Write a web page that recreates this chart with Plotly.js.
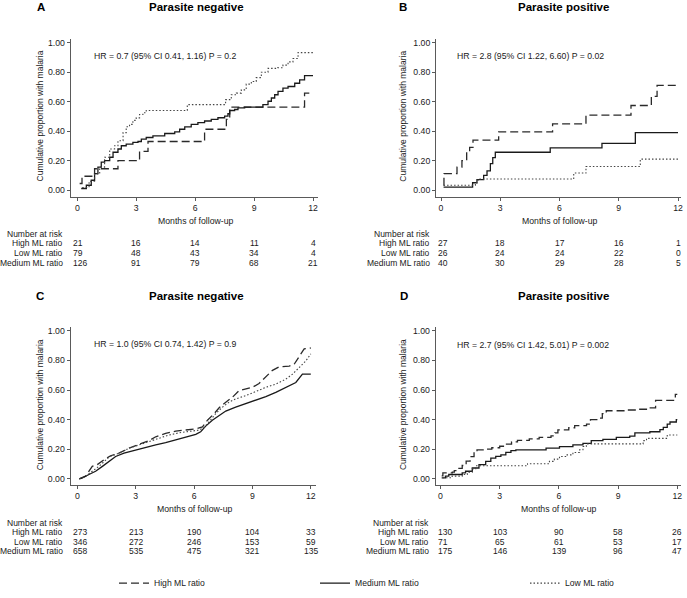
<!DOCTYPE html>
<html>
<head>
<meta charset="utf-8">
<script src="https://cdn.plot.ly/plotly-3.0.1.min.js"></script>
<style>html,body{margin:0;padding:0;background:#fff}#chart{width:687px;height:598px}</style>
</head>
<body>
<div id="chart"></div>
<script>
// ---------------- DATA ----------------
const monthTicks = [0, 3, 6, 9, 12];
const propTicks = [0, 0.2, 0.4, 0.6, 0.8, 1.0];
const seriesNames = ["High ML ratio", "Medium ML ratio", "Low ML ratio"];
const riskRowNames = ["High ML ratio", "Low ML ratio", "Medium ML ratio"];

const panelLetters = ["A", "B", "C", "D"];
const panelTitles = ["Parasite negative", "Parasite positive", "Parasite negative", "Parasite positive"];
const hrTexts = [
  "HR = 0.7 (95% CI 0.41, 1.16) P = 0.2",
  "HR = 2.8 (95% CI 1.22, 6.60) P = 0.02",
  "HR = 1.0 (95% CI 0.74, 1.42) P = 0.9",
  "HR = 2.7 (95% CI 1.42, 5.01) P = 0.002"
];

// Panel A
const aHighX = [0.12, 0.24, 0.88, 2.07, 3.17, 3.6, 6.48, 7.59, 7.76, 11.57, 12.0];
const aHighY = [0.045, 0.094, 0.145, 0.20, 0.263, 0.33, 0.413, 0.48, 0.5625, 0.658, 0.658];
const aMedX = [0.2, 0.46, 0.71, 0.88, 1.05, 1.22, 1.39, 1.65, 1.82, 2.07, 2.24, 2.49, 2.83, 3.09, 3.26, 3.51, 3.85, 4.45, 4.96, 5.21, 5.47, 5.8, 6.14, 6.48, 6.82, 7.16, 7.5, 7.67, 7.76, 8.01, 8.18, 8.52, 9.45, 9.71, 9.88, 10.05, 10.22, 10.47, 10.73, 11.07, 11.32, 11.57, 12.0];
const aMedY = [0.011, 0.033, 0.067, 0.112, 0.156, 0.19, 0.20, 0.223, 0.257, 0.279, 0.301, 0.3125, 0.324, 0.33, 0.346, 0.357, 0.368, 0.384, 0.395, 0.413, 0.429, 0.446, 0.458, 0.469, 0.48, 0.491, 0.502, 0.518, 0.54, 0.547, 0.558, 0.5625, 0.58, 0.603, 0.625, 0.647, 0.67, 0.692, 0.703, 0.725, 0.748, 0.777, 0.777];
const aLowX = [0.25, 0.6, 0.88, 1.14, 1.39, 1.65, 1.90, 2.07, 2.33, 2.49, 2.66, 2.83, 3.0, 3.17, 3.34, 3.51, 5.6, 7.55, 7.84, 8.1, 8.35, 8.6, 8.86, 9.11, 9.37, 9.71, 10.2, 10.47, 10.73, 10.98, 11.24, 12.0];
const aLowY = [0.018, 0.06, 0.11, 0.156, 0.223, 0.279, 0.301, 0.335, 0.39, 0.43, 0.446, 0.473, 0.49, 0.513, 0.525, 0.54, 0.58, 0.614, 0.647, 0.658, 0.68, 0.719, 0.737, 0.763, 0.80, 0.826, 0.83, 0.848, 0.87, 0.893, 0.933, 0.933];

// Panel B
const bHighX = [0.13, 0.15, 0.81, 1.06, 1.3, 1.45, 1.62, 2.92, 5.65, 7.34, 9.62, 10.65, 10.94, 12.0];
const bHighY = [0.033, 0.112, 0.156, 0.20, 0.257, 0.29, 0.339, 0.395, 0.45, 0.509, 0.574, 0.636, 0.71, 0.71];
const bMedX = [0.13, 1.6, 1.82, 2.16, 2.33, 2.5, 2.62, 2.75, 5.53, 8.15, 9.84, 12.0];
const bMedY = [0.02, 0.05, 0.071, 0.10, 0.13, 0.18, 0.22, 0.257, 0.286, 0.317, 0.39, 0.39];
const bLowX = [0.13, 1.74, 1.87, 6.72, 7.34, 10.09, 12.0];
const bLowY = [0.033, 0.05, 0.075, 0.116, 0.16, 0.21, 0.21];

// Panel C
const cHighX = [0.1, 0.43, 0.77, 1.03, 1.37, 1.71, 2.14, 2.66, 3.17, 3.69, 4.03, 4.54, 5.06, 5.57, 6.09, 6.43, 6.69, 7.03, 7.29, 7.63, 7.97, 8.31, 8.74, 9.0, 9.34, 9.69, 10.03, 10.37, 10.89, 11.14, 11.4, 11.66, 12.0];
const cHighY = [0.0, 0.018, 0.084, 0.096, 0.129, 0.156, 0.173, 0.207, 0.233, 0.258, 0.284, 0.307, 0.322, 0.329, 0.338, 0.351, 0.396, 0.44, 0.48, 0.518, 0.551, 0.596, 0.607, 0.618, 0.644, 0.689, 0.733, 0.756, 0.762, 0.773, 0.822, 0.878, 0.884];
const cMedX = [0.1, 0.26, 0.6, 0.94, 1.29, 1.63, 1.97, 2.4, 2.83, 3.09, 3.51, 4.03, 4.54, 5.06, 5.57, 6.09, 6.34, 6.6, 6.94, 7.29, 7.63, 8.14, 8.66, 9.17, 9.69, 10.2, 10.71, 11.23, 11.57, 12.0];
const cMedY = [0.0, 0.007, 0.029, 0.051, 0.084, 0.118, 0.151, 0.173, 0.189, 0.196, 0.211, 0.229, 0.244, 0.262, 0.28, 0.30, 0.318, 0.356, 0.396, 0.429, 0.458, 0.484, 0.507, 0.529, 0.556, 0.584, 0.618, 0.651, 0.707, 0.707];
const cLowX = [0.1, 0.43, 0.77, 1.11, 1.63, 2.14, 2.66, 3.17, 3.69, 4.2, 4.71, 5.23, 5.74, 6.26, 6.51, 6.77, 7.11, 7.46, 7.8, 8.14, 8.66, 9.17, 9.69, 10.2, 10.71, 11.06, 11.4, 11.74, 12.0];
const cLowY = [0.0, 0.018, 0.051, 0.084, 0.147, 0.173, 0.207, 0.229, 0.251, 0.273, 0.296, 0.311, 0.318, 0.329, 0.347, 0.384, 0.44, 0.484, 0.518, 0.54, 0.562, 0.591, 0.618, 0.64, 0.673, 0.707, 0.751, 0.796, 0.844];

// Panel D
const dHighX = [0.06, 0.12, 0.6, 0.7, 0.9, 1.1, 1.3, 1.5, 1.7, 1.85, 2.3, 2.6, 3.0, 3.3, 3.6, 3.9, 4.5, 5.0, 5.6, 5.8, 5.95, 6.5, 6.8, 7.4, 7.6, 8.0, 8.2, 8.4, 9.4, 10.1, 10.5, 10.9, 11.9, 12.0];
const dHighY = [0.02, 0.04, 0.045, 0.055, 0.07, 0.09, 0.12, 0.15, 0.18, 0.195, 0.20, 0.21, 0.22, 0.235, 0.25, 0.26, 0.27, 0.28, 0.29, 0.31, 0.33, 0.345, 0.36, 0.37, 0.40, 0.41, 0.44, 0.46, 0.465, 0.47, 0.48, 0.53, 0.57, 0.57];
const dMedX = [0.06, 0.25, 0.42, 1.1, 1.27, 1.61, 1.95, 2.29, 2.55, 2.8, 3.06, 3.31, 3.57, 3.82, 5.35, 6.03, 6.71, 7.22, 7.64, 8.23, 8.91, 9.59, 9.85, 10.61, 11.12, 11.29, 11.49, 11.63, 11.95, 12.0];
const dMedY = [0.007, 0.018, 0.029, 0.04, 0.051, 0.073, 0.096, 0.118, 0.14, 0.151, 0.162, 0.178, 0.191, 0.196, 0.207, 0.218, 0.229, 0.24, 0.258, 0.267, 0.28, 0.289, 0.311, 0.318, 0.333, 0.347, 0.369, 0.384, 0.40, 0.40];
const dLowX = [0.1, 0.59, 1.1, 1.36, 1.61, 1.78, 4.41, 5.52, 5.77, 6.03, 6.37, 6.71, 7.05, 7.22, 7.39, 10.27, 10.44, 11.49, 12.0];
const dLowY = [0.007, 0.018, 0.029, 0.044, 0.067, 0.088, 0.102, 0.118, 0.133, 0.151, 0.162, 0.178, 0.196, 0.218, 0.236, 0.258, 0.273, 0.296, 0.296];

// Numbers at risk (rows: High, Low, Medium; columns at monthTicks)
const riskAHigh = [21, 16, 14, 11, 4];
const riskALow = [79, 48, 43, 34, 4];
const riskAMed = [126, 91, 79, 68, 21];
const riskBHigh = [27, 18, 17, 16, 1];
const riskBLow = [26, 24, 24, 22, 0];
const riskBMed = [40, 30, 29, 28, 5];
const riskCHigh = [273, 213, 190, 104, 33];
const riskCLow = [346, 272, 246, 153, 59];
const riskCMed = [658, 535, 475, 321, 135];
const riskDHigh = [130, 103, 90, 58, 26];
const riskDLow = [71, 65, 61, 53, 17];
const riskDMed = [175, 146, 139, 96, 47];

// ---------------- LAYOUT / STYLE ----------------
const W = 687, H = 598;
const FONT = "Liberation Sans, Arial, Helvetica, sans-serif";
const TXT = "#1a1a1a";
const px2x = p => p / W;
const px2y = p => 1 - p / H;

const panels = [
  {ax: "", left: 70.7, right: 318, x0: 77.3, x12: 313, bottom: 199.5, top: 39.3, y0: 192.7, y1: 43.3,
   letter: [41.3, 7.5], title: [196, 7.5], hr: [92, 56.7], ytitle: 40, xtitle: 224, header: 237, rows: [246.7, 256.7, 266.3], labelRight: 64.5,
   series: [[aHighX, aHighY], [aMedX, aMedY], [aLowX, aLowY]], risk: [riskAHigh, riskALow, riskAMed], shape: "hv"},
  {ax: "2", left: 436, right: 681, x0: 441, x12: 678, bottom: 199.5, top: 39.3, y0: 192.7, y1: 43.3,
   letter: [403, 7.5], title: [563, 7.5], hr: [455, 56.7], ytitle: 403.3, xtitle: 224, header: 237, rows: [246.7, 256.7, 266.3], labelRight: 431.7,
   series: [[bHighX, bHighY], [bMedX, bMedY], [bLowX, bLowY]], risk: [riskBHigh, riskBLow, riskBMed], shape: "hv"},
  {ax: "3", left: 70.5, right: 316, x0: 77.3, x12: 310.8, bottom: 491.5, top: 331.5, y0: 485.3, y1: 335.3,
   letter: [39.7, 300], title: [196.5, 300], hr: [92, 348.3], ytitle: 39.5, xtitle: 516, header: 529.6, rows: [539.3, 549.3, 558.9], labelRight: 64.5,
   series: [[cHighX, cHighY], [cMedX, cMedY], [cLowX, cLowY]], risk: [riskCHigh, riskCLow, riskCMed], shape: "linear"},
  {ax: "4", left: 435.7, right: 681, x0: 440.5, x12: 677.3, bottom: 491.5, top: 331.5, y0: 485.3, y1: 335.3,
   letter: [403.8, 300], title: [563, 300], hr: [455, 349.3], ytitle: 403.3, xtitle: 516, header: 529.6, rows: [539.3, 549.3, 558.9], labelRight: 431,
   series: [[dHighX, dHighY], [dMedX, dMedY], [dLowX, dLowY]], risk: [riskDHigh, riskDLow, riskDMed], shape: "hv"}
];

const lineStyles = [
  {color: "#2a2a2a", width: 1.3, dash: "8px,4px"},
  {color: "#1a1a1a", width: 1.3, dash: "solid"},
  {color: "#444", width: 1.1, dash: "1.5px,2px"}
];
const legendIds = ["legend", "legend2", "legend3"];
const legendLeftPx = [114, 315, 525];

const traces = [];
const annotations = [];
const layout = {
  width: W, height: H,
  margin: {l: 0, r: 0, t: 0, b: 0},
  paper_bgcolor: "#fff", plot_bgcolor: "#fff",
  font: {family: FONT, size: 8.7, color: TXT},
  showlegend: true
};
legendIds.forEach((id, k) => {
  layout[id] = {
    orientation: "h", x: px2x(legendLeftPx[k]), xanchor: "left", y: px2y(591), yanchor: "middle",
    font: {family: FONT, size: 8.6, color: TXT}, bgcolor: "rgba(0,0,0,0)", borderwidth: 0,
    itemwidth: 30
  };
});

panels.forEach((p, i) => {
  const ppm = (p.x12 - p.x0) / 12;
  const ppu = p.y0 - p.y1;
  const xr = [(p.left - p.x0) / ppm, (p.right - p.x0) / ppm];
  const yr = [(p.y0 - p.bottom) / ppu, (p.y0 - p.top) / ppu];
  const axCommon = {
    showline: true, linecolor: "#5a5a5a", linewidth: 1, ticks: "outside", ticklen: 3, tickwidth: 1,
    tickcolor: "#5a5a5a", showgrid: false, zeroline: false, fixedrange: true,
    tickfont: {family: FONT, size: 8.7, color: TXT}
  };
  layout["xaxis" + p.ax] = Object.assign({}, axCommon, {
    domain: [px2x(p.left), px2x(p.right)], range: xr, tickvals: monthTicks,
    anchor: "y" + p.ax
  });
  layout["yaxis" + p.ax] = Object.assign({}, axCommon, {
    domain: [px2y(p.bottom), px2y(p.top)], range: yr, tickvals: propTicks, tickformat: ".2f",
    anchor: "x" + p.ax
  });

  p.series.forEach((s, k) => {
    traces.push({
      type: "scatter", mode: "lines", x: s[0], y: s[1],
      xaxis: "x" + p.ax, yaxis: "y" + p.ax,
      name: seriesNames[k], legend: legendIds[k], showlegend: i === 0,
      line: Object.assign({shape: p.shape}, lineStyles[k]), hoverinfo: "skip"
    });
  });

  annotations.push({xref: "paper", yref: "paper", x: px2x(p.letter[0]), y: px2y(p.letter[1]), xanchor: "center", yanchor: "middle",
    text: "<b>" + panelLetters[i] + "</b>", showarrow: false, font: {family: FONT, size: 11.5, color: "#000"}});
  annotations.push({xref: "paper", yref: "paper", x: px2x(p.title[0]), y: px2y(p.title[1]), xanchor: "center", yanchor: "middle",
    text: "<b>" + panelTitles[i] + "</b>", showarrow: false, font: {family: FONT, size: 11.5, color: "#000"}});
  annotations.push({xref: "paper", yref: "paper", x: px2x(p.hr[0]), y: px2y(p.hr[1]), xanchor: "left", yanchor: "middle",
    text: hrTexts[i], showarrow: false, font: {family: FONT, size: 8.7, color: TXT}});
  annotations.push({xref: "paper", yref: "paper", x: px2x(p.ytitle), y: px2y((p.y0 + p.y1) / 2), xanchor: "center", yanchor: "middle",
    text: "Cumulative proportion with malaria", textangle: -90, showarrow: false, font: {family: FONT, size: 8.5, color: TXT}});
  annotations.push({xref: "x" + p.ax, yref: "paper", x: 6, y: px2y(p.xtitle), xanchor: "center", yanchor: "middle",
    text: "Months of follow-up", showarrow: false, font: {family: FONT, size: 8.7, color: TXT}});
  annotations.push({xref: "paper", yref: "paper", x: px2x(p.labelRight), y: px2y(p.header), xanchor: "right", yanchor: "middle",
    text: "Number at risk", showarrow: false, font: {family: FONT, size: 8.5, color: TXT}});
  p.risk.forEach((row, r) => {
    annotations.push({xref: "paper", yref: "paper", x: px2x(p.labelRight), y: px2y(p.rows[r]), xanchor: "right", yanchor: "middle",
      text: riskRowNames[r], showarrow: false, font: {family: FONT, size: 8.5, color: TXT}});
    row.forEach((v, c) => {
      const first = c === 0;
      annotations.push({xref: "x" + p.ax, yref: "paper", x: first ? xr[0] : monthTicks[c], y: px2y(p.rows[r]),
        xanchor: first ? "left" : "center", yanchor: "middle", text: String(v), showarrow: false,
        font: {family: FONT, size: 8.5, color: TXT}});
    });
  });
});

layout.annotations = annotations;

Plotly.newPlot("chart", traces, layout, {displayModeBar: false, staticPlot: true});
</script>
</body>
</html>
